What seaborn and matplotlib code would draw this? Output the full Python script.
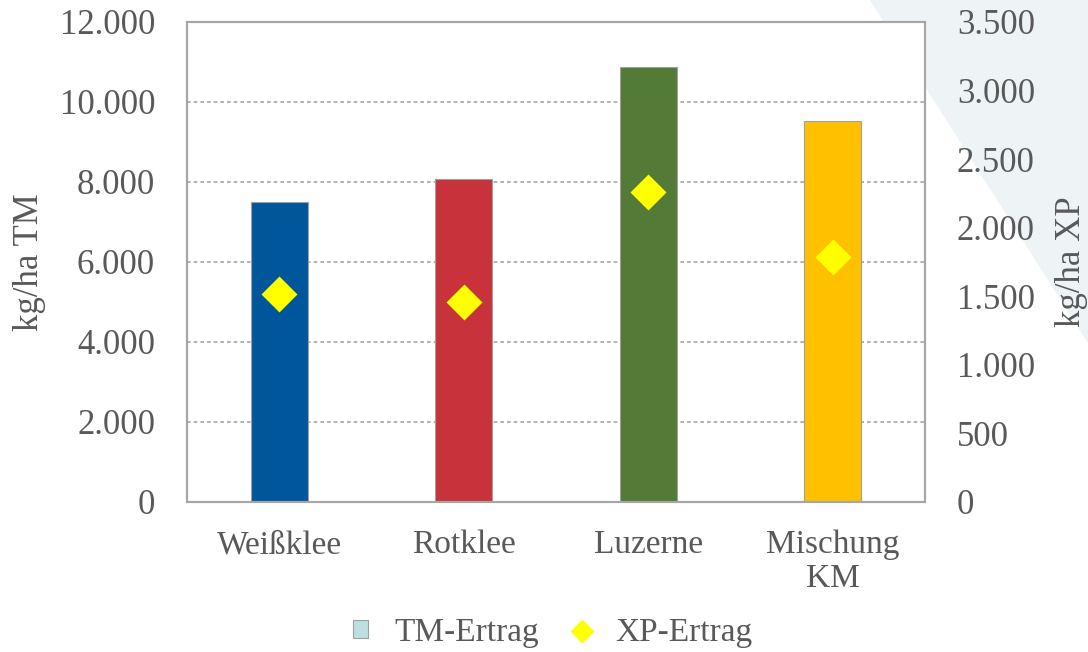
import matplotlib
matplotlib.use("Agg")
import matplotlib.pyplot as plt
import seaborn as sns
import numpy as np
import pandas as pd
from matplotlib.patches import Polygon, Patch
from matplotlib.lines import Line2D
from matplotlib.ticker import FuncFormatter

categories = ["Weißklee", "Rotklee", "Luzerne", "Mischung\nKM"]
tm_ertrag = [7500, 8080, 10880, 9530]
xp_ertrag = [1515, 1455, 2260, 1790]
bar_colors = ["#00569A", "#C8323A", "#537A36", "#FFC000"]
left_ticks = [0, 2000, 4000, 6000, 8000, 10000, 12000]
right_ticks = [0, 500, 1000, 1500, 2000, 2500, 3000, 3500]

sns.set_theme(style="white")
plt.rcParams["font.family"] = ["Liberation Serif", "DejaVu Serif"]
TXT = "#595959"
GRID = "#A6A6A6"

fig = plt.figure(figsize=(10.88, 6.52), dpi=100)
fig.patch.set_facecolor("white")
tri = Polygon([(870/1088, 1.0), (1.0, 1.0), (1.0, 1 - 343/652)],
              closed=True, transform=fig.transFigure,
              facecolor="#EEF3F6", edgecolor="none", zorder=-10)
fig.add_artist(tri)

ax = fig.add_axes([187/1088, 1 - 502/652, (925 - 187)/1088, (502 - 22)/652])
ax.set_facecolor("white")

df = pd.DataFrame({"Art": categories, "TM": tm_ertrag, "XP": xp_ertrag})

sns.barplot(data=df, x="Art", y="TM", hue="Art", palette=bar_colors,
            saturation=1, width=0.31, edgecolor="#A0A0A0", linewidth=0.8,
            legend=False, ax=ax, zorder=2)
ax.set_ylim(0, 12000)
ax.set_yticks(left_ticks)
fmt = FuncFormatter(lambda v, p: f"{int(v):,}".replace(",", "."))
ax.yaxis.set_major_formatter(fmt)
ax.set_axisbelow(True)
ax.yaxis.grid(True, color=GRID, linestyle=(0, (2.2, 1.8)), linewidth=1.2)
ax.xaxis.grid(False)
ax.tick_params(axis="both", length=0, colors=TXT)
ax.tick_params(axis="y", labelsize=25, pad=23)
ax.tick_params(axis="x", labelsize=24, pad=20)
for lab in ax.get_xticklabels():
    lab.set_linespacing(1.15)
ax.set_xlabel("")
ax.set_ylabel("")
for s in ax.spines.values():
    s.set_color(GRID)
    s.set_linewidth(1.5)
    s.set_visible(True)

ax2 = ax.twinx()
sns.pointplot(data=df, x="Art", y="XP", ax=ax2, linestyle="none", markers="D",
              color="#FFFF00", markersize=16.5, errorbar=None, zorder=5)
ax2.set_ylim(0, 3500)
ax2.set_yticks(right_ticks)
ax2.yaxis.set_major_formatter(fmt)
ax2.tick_params(axis="y", length=0, colors=TXT, labelsize=25, pad=23)
ax2.set_xlabel("")
ax2.set_ylabel("")
ax2.grid(False)
ax2.patch.set_visible(False)
for s in ax2.spines.values():
    s.set_color(GRID)
    s.set_linewidth(1.5)
ax.set_xlim(-0.5, len(categories) - 0.5)
ax2.set_xlim(-0.5, len(categories) - 0.5)

yc = 1 - 262/652
fig.text(30/1088, yc, "kg/ha TM", rotation=90, ha="center", va="center",
         fontsize=25, color=TXT)
fig.text(1071/1088, yc, "kg/ha XP", rotation=90, ha="center", va="center",
         fontsize=25, color=TXT)

handles = [
    Patch(facecolor="#BCE0E0", edgecolor="#A0A0A0", linewidth=0.8, label="TM-Ertrag"),
    Line2D([0], [0], marker="D", color="none", markerfacecolor="#FFFF00",
           markeredgecolor="#FFFF00", markersize=11, label="XP-Ertrag"),
]
leg = fig.legend(handles=handles, loc="center", bbox_to_anchor=(553/1088, 1 - 633/652),
                 ncol=2, frameon=False, fontsize=24, handlelength=0.45, handleheight=0.45,
                 handletextpad=0.78, columnspacing=1.08)
for t in leg.get_texts():
    t.set_color(TXT)

fig.savefig("out.png", dpi=100, facecolor="white")
